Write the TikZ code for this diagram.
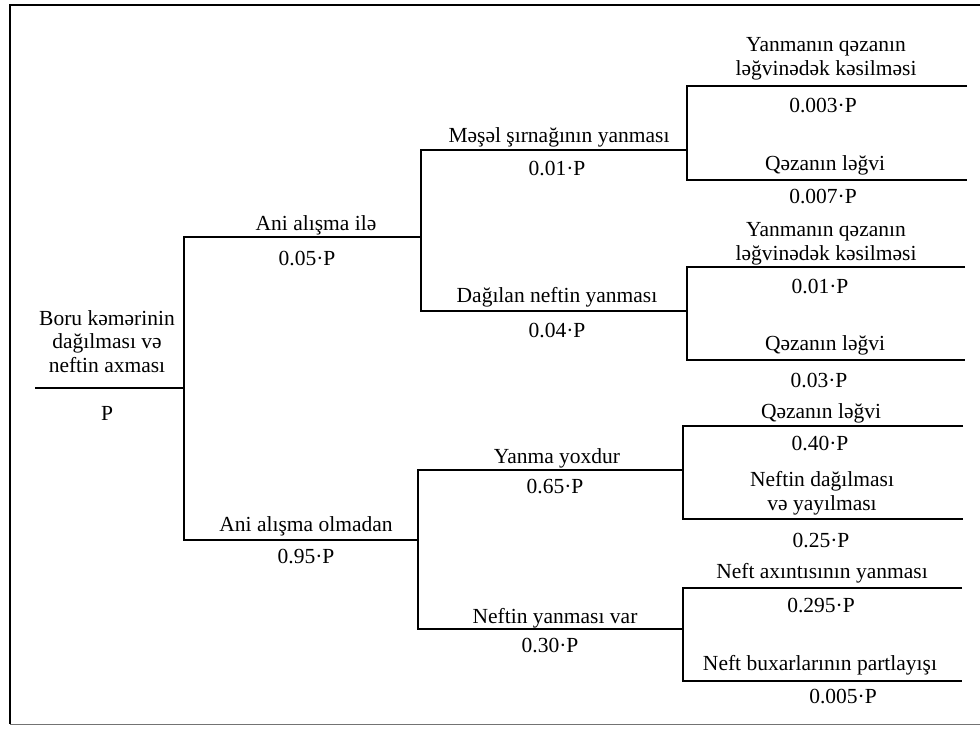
\documentclass[tikz,border=0pt]{standalone}
\usepackage{fontspec}
\setmainfont{Liberation Serif}
\usepackage{tikz}
\tikzstyle{branch}=[line width=1.6pt]
\tikzstyle{lbl}=[inner sep=0pt, anchor=base, align=center, font=\fontsize{21.5}{23.5}\selectfont]

\begin{document}
\begin{tikzpicture}[x=1pt, y=-1pt]
                    \useasboundingbox (0,0) rectangle (980,736);
                    % frame
                    \draw[line width=1.6pt] (980,5) -- (10,5) -- (10,724);
                    \draw[line width=1pt, black!55] (10,724) -- (980,724);
                    % junctions
                    \coordinate (r0) at (35,388);
                    \coordinate (r) at (184,388);
                    \coordinate (a) at (184,237);
                    \coordinate (a1) at (421,237);
                    \coordinate (b) at (184,540);
                    \coordinate (b1) at (418,540);
                    \coordinate (aa) at (421,150);
                    \coordinate (aa1) at (687,150);
                    \coordinate (ab) at (421,311);
                    \coordinate (ab1) at (687,311);
                    \coordinate (ba) at (418,470);
                    \coordinate (ba1) at (683,470);
                    \coordinate (bb) at (418,629);
                    \coordinate (bb1) at (683,629);
                    \coordinate (aaa) at (687,86);
                    \coordinate (aaa1) at (967,86);
                    \coordinate (aab) at (687,180);
                    \coordinate (aab1) at (967,180);
                    \coordinate (aba) at (687,267);
                    \coordinate (aba1) at (965,267);
                    \coordinate (abb) at (687,360);
                    \coordinate (abb1) at (965,360);
                    \coordinate (baa) at (683,426);
                    \coordinate (baa1) at (963,426);
                    \coordinate (bab) at (683,519);
                    \coordinate (bab1) at (963,519);
                    \coordinate (bba) at (683,588);
                    \coordinate (bba1) at (962,588);
                    \coordinate (bbb) at (683,681);
                    \coordinate (bbb1) at (962,681);
                    \draw[branch]
                        (r0) -- (r)
                        (a1) -- (a) -- (b) -- (b1)
                        (aa1) -- (aa) -- (ab) -- (ab1)
                        (ba1) -- (ba) -- (bb) -- (bb1)
                        (aaa1) -- (aaa) -- (aab) -- (aab1)
                        (aba1) -- (aba) -- (abb) -- (abb1)
                        (baa1) -- (baa) -- (bab) -- (bab1)
                        (bba1) -- (bba) -- (bbb) -- (bbb1)
                    ;
                    % root
                    \node[lbl] (t-r) at (107,372) {Boru kəmərinin\\dağılması və\\neftin axması};
                    \node[lbl] (p-r) at (107,420) {P};
                    % first level
                    \node[lbl] (t-a) at (316,230) {Ani alışma ilə};
                    \node[lbl] (p-a) at (307,265) {0.05·P};
                    \node[lbl] (t-b) at (306,531) {Ani alışma olmadan};
                    \node[lbl] (p-b) at (306,563) {0.95·P};
                    % second level
                    \node[lbl] (t-aa) at (559,142) {Məşəl şırnağının yanması};
                    \node[lbl] (p-aa) at (557,175) {0.01·P};
                    \node[lbl] (t-ab) at (557,302) {Dağılan neftin yanması};
                    \node[lbl] (p-ab) at (557,337) {0.04·P};
                    \node[lbl] (t-ba) at (557,463) {Yanma yoxdur};
                    \node[lbl] (p-ba) at (555,493) {0.65·P};
                    \node[lbl] (t-bb) at (555,623) {Neftin yanması var};
                    \node[lbl] (p-bb) at (550,652) {0.30·P};
                    % third level
                    \node[lbl] (t-aaa) at (826,75) {Yanmanın qəzanın\\ləğvinədək kəsilməsi};
                    \node[lbl] (p-aaa) at (823,112) {0.003·P};
                    \node[lbl] (t-aab) at (825,170) {Qəzanın ləğvi};
                    \node[lbl] (p-aab) at (823,203) {0.007·P};
                    \node[lbl] (t-aba) at (826,260) {Yanmanın qəzanın\\ləğvinədək kəsilməsi};
                    \node[lbl] (p-aba) at (820,293) {0.01·P};
                    \node[lbl] (t-abb) at (825,350) {Qəzanın ləğvi};
                    \node[lbl] (p-abb) at (819,387) {0.03·P};
                    \node[lbl] (t-baa) at (821,418) {Qəzanın ləğvi};
                    \node[lbl] (p-baa) at (820,450) {0.40·P};
                    \node[lbl] (t-bab) at (822,510) {Neftin dağılması\\və yayılması};
                    \node[lbl] (p-bab) at (821,547) {0.25·P};
                    \node[lbl] (t-bba) at (822,578) {Neft axıntısının yanması};
                    \node[lbl] (p-bba) at (821,612) {0.295·P};
                    \node[lbl] (t-bbb) at (820,670) {Neft buxarlarının partlayışı};
                    \node[lbl] (p-bbb) at (843,703) {0.005·P};
                \end{tikzpicture}
\end{document}
